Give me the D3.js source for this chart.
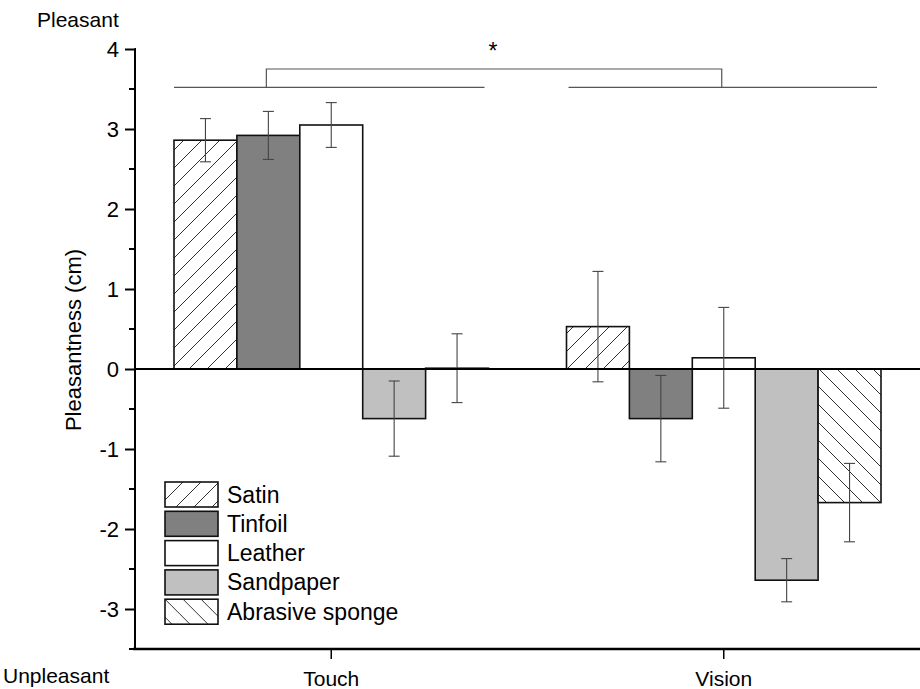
<!DOCTYPE html>
<html><head><meta charset="utf-8">
<script src="https://cdn.jsdelivr.net/npm/d3@7"></script>
<style>body{margin:0;background:#fff}svg{display:block}text{font-family:"Liberation Sans",Arial,sans-serif;fill:#000}</style>
</head><body><svg id="c" width="920" height="689"></svg>
<script>
const groups = ["Touch", "Vision"];
const materials = ["Satin", "Tinfoil", "Leather", "Sandpaper", "Abrasive sponge"];
const touchMeans = [2.86, 2.92, 3.05, -0.62, 0.01];
const touchErr = [0.27, 0.30, 0.28, 0.47, 0.43];
const visionMeans = [0.53, -0.62, 0.14, -2.64, -1.67];
const visionErr = [0.69, 0.54, 0.63, 0.27, 0.49];
const yTicks = [-3, -2, -1, 0, 1, 2, 3, 4];
const yMinorTicks = [-3.5, -2.5, -1.5, -0.5, 0.5, 1.5, 2.5, 3.5];
const fills = ["url(#hatchF)", "#808080", "#ffffff", "#c0c0c0", "url(#hatchB)"];

const data = [];
groups.forEach((g, gi) => {
  const m = gi === 0 ? touchMeans : visionMeans;
  const e = gi === 0 ? touchErr : visionErr;
  materials.forEach((mat, i) => data.push({group: g, mat, i, v: m[i], e: e[i]}));
});

const svg = d3.select("#c");
const defs = svg.append("defs");
const hf = defs.append("pattern").attr("id", "hatchF").attr("patternUnits", "userSpaceOnUse").attr("width", 18).attr("height", 18);
hf.append("rect").attr("width", 18).attr("height", 18).attr("fill", "#fff");
hf.append("path").attr("d", "M0,18L18,0M-4.5,4.5L4.5,-4.5M13.5,22.5L22.5,13.5").attr("stroke", "#333").attr("stroke-width", 1);
const hb = defs.append("pattern").attr("id", "hatchB").attr("patternUnits", "userSpaceOnUse").attr("width", 18).attr("height", 18);
hb.append("rect").attr("width", 18).attr("height", 18).attr("fill", "#fff");
hb.append("path").attr("d", "M0,0L18,18M-4.5,13.5L4.5,22.5M13.5,-4.5L22.5,4.5").attr("stroke", "#333").attr("stroke-width", 1);

const x0 = d3.scaleBand().domain(groups).range([135, 920]).paddingInner(0).paddingOuter(0);
const x1 = d3.scaleBand().domain(materials).range([0, x0.bandwidth()]).paddingOuter(0.62).paddingInner(0);
const y = d3.scaleLinear().domain([-3.5, 4]).range([649, 49]);

// bars
svg.append("g").selectAll("rect").data(data).join("rect")
  .attr("x", d => x0(d.group) + x1(d.mat))
  .attr("width", x1.bandwidth())
  .attr("y", d => y(Math.max(0, d.v)))
  .attr("height", d => Math.abs(y(d.v) - y(0)))
  .attr("fill", d => fills[d.i])
  .attr("stroke", "#111").attr("stroke-width", 1.6);

// error bars
const eb = svg.append("g").attr("stroke", "#444").attr("stroke-width", 1.1);
data.forEach(d => {
  const cx = x0(d.group) + x1(d.mat) + x1.bandwidth() / 2;
  eb.append("line").attr("x1", cx).attr("x2", cx).attr("y1", y(d.v + d.e)).attr("y2", y(d.v - d.e));
  eb.append("line").attr("x1", cx - 5.5).attr("x2", cx + 5.5).attr("y1", y(d.v + d.e)).attr("y2", y(d.v + d.e));
  eb.append("line").attr("x1", cx - 5.5).attr("x2", cx + 5.5).attr("y1", y(d.v - d.e)).attr("y2", y(d.v - d.e));
});

// zero line
svg.append("line").attr("x1", 135).attr("x2", 920).attr("y1", y(0)).attr("y2", y(0)).attr("stroke", "#000").attr("stroke-width", 2);

// y axis
const yAxis = svg.append("g").attr("transform", "translate(135,0)")
  .call(d3.axisLeft(y).tickValues(yTicks).tickSize(10).tickPadding(6).tickFormat(d3.format("d")));
yAxis.select(".domain").attr("stroke-width", 2).attr("d", `M-0.5,${y(4)}H0V${y(-3.5)}`);
yAxis.selectAll(".tick line").attr("stroke-width", 2);
yAxis.selectAll(".tick text").attr("font-size", 22).attr("font-family", "Liberation Sans, Arial, sans-serif").text(d => d < 0 ? "-" + Math.abs(d) : d);
svg.append("g").selectAll("line").data(yMinorTicks).join("line")
  .attr("x1", 129).attr("x2", 135).attr("y1", d => y(d)).attr("y2", d => y(d)).attr("stroke", "#000").attr("stroke-width", 2);

// x axis
const xAxis = svg.append("g").attr("transform", `translate(0,${y(-3.5)})`)
  .call(d3.axisBottom(x0).tickSize(10).tickPadding(12));
xAxis.select(".domain").attr("stroke-width", 2.5).attr("d", "M133,0H920");
xAxis.selectAll(".tick line").attr("stroke-width", 1.5);
xAxis.selectAll(".tick text").attr("font-size", 21).attr("font-family", "Liberation Sans, Arial, sans-serif");

// labels
svg.append("text").attr("x", 37).attr("y", 27).attr("font-size", 21).text("Pleasant");
svg.append("text").attr("x", 3).attr("y", 683).attr("font-size", 21).text("Unpleasant");
svg.append("text").attr("transform", "translate(81,340) rotate(-90)").attr("text-anchor", "middle").attr("font-size", 22).text("Pleasantness (cm)");

// significance bracket
const sg = svg.append("g").attr("stroke", "#555").attr("stroke-width", 1.2).attr("fill", "none");
const tStart = x0("Touch") + x1(materials[0]), tEnd = x0("Touch") + x1(materials[4]) + x1.bandwidth();
const vStart = x0("Vision") + x1(materials[0]), vEnd = x0("Vision") + x1(materials[4]) + x1.bandwidth();
sg.append("line").attr("x1", tStart).attr("x2", tEnd - 4).attr("y1", y(3.52)).attr("y2", y(3.52));
sg.append("line").attr("x1", vStart + 2).attr("x2", vEnd - 4).attr("y1", y(3.52)).attr("y2", y(3.52));
const bl = x0("Touch") + x1(materials[1]) + x1.bandwidth() / 2 - 2;
const br = x0("Vision") + x1(materials[2]) + x1.bandwidth() / 2 - 2;
sg.append("path").attr("d", `M${bl},${y(3.52)}V${y(3.75)}H${br}V${y(3.52)}`);
svg.append("text").attr("x", (bl + br) / 2 - 1).attr("y", 59).attr("text-anchor", "middle").attr("font-size", 23).text("*");

// legend
const leg = svg.append("g").attr("transform", "translate(165,482)");
materials.forEach((m, i) => {
  const g = leg.append("g").attr("transform", `translate(0,${i * 29.3})`);
  g.append("rect").attr("width", 53).attr("height", 25).attr("fill", fills[i]).attr("stroke", "#111").attr("stroke-width", 1.6);
  g.append("text").attr("x", 62).attr("y", 20.5).attr("font-size", 23).text(m);
});
</script></body></html>
